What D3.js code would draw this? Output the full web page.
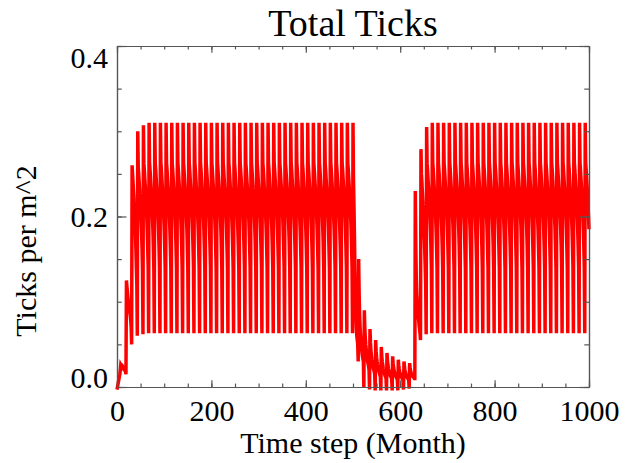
<!DOCTYPE html>
<html>
<head>
<meta charset="utf-8">
<script src="https://cdn.jsdelivr.net/npm/d3@7"></script>
<style>
  body { margin: 0; background: #fff; }
  text { font-family: "Liberation Serif", "Times New Roman", serif; }
</style>
</head>
<body>
<div id="chart"></div>
<script>
// tick labels
const xTicks = [0, 200, 400, 600, 800, 1000];
const yTicks = [0.0, 0.2, 0.4];

// first five years, month 0..59
const startup = [
  -0.003, 0.0, 0.003, 0.006, 0.009, 0.012, 0.015, 0.02, 0.026, 0.025, 0.024, 0.023,
  0.024, 0.023, 0.022, 0.021, 0.02, 0.019, 0.018, 0.015, 0.125, 0.118, 0.112, 0.106,
  0.1, 0.096, 0.092, 0.088, 0.084, 0.078, 0.07, 0.05, 0.26, 0.25, 0.24, 0.23,
  0.22, 0.208, 0.195, 0.18, 0.162, 0.14, 0.12, 0.06, 0.3, 0.258, 0.25, 0.24,
  0.23, 0.22, 0.21, 0.197, 0.182, 0.163, 0.138, 0.062, 0.307, 0.262, 0.254, 0.244
];

// steady seasonal cycle, by month of year (t % 12)
const seasonCycle = [0.235, 0.225, 0.213, 0.2, 0.185, 0.165, 0.14, 0.063, 0.31, 0.263, 0.255, 0.245];

// crash, trough and recovery, month 501..667
const troughStart = 501;
const trough = [
  0.245, 0.215, 0.18,
  0.14, 0.11, 0.085, 0.07, 0.06, 0.055, 0.05, 0.03, 0.15, 0.11, 0.085, 0.07,
  0.06, 0.052, 0.046, 0.04, 0.036, 0.033, 0.03, 0.0, 0.09, 0.07, 0.058, 0.05,
  0.044, 0.038, 0.034, 0.03, 0.027, 0.024, 0.02, -0.003, 0.068, 0.052, 0.043, 0.037,
  0.032, 0.028, 0.025, 0.022, 0.02, 0.018, 0.015, -0.004, 0.055, 0.042, 0.035, 0.03,
  0.026, 0.023, 0.02, 0.018, 0.016, 0.014, 0.012, -0.004, 0.047, 0.036, 0.03, 0.026,
  0.022, 0.019, 0.017, 0.015, 0.013, 0.012, 0.01, -0.004, 0.04, 0.031, 0.026, 0.022,
  0.019, 0.017, 0.015, 0.013, 0.012, 0.011, 0.009, -0.004, 0.036, 0.028, 0.023, 0.02,
  0.017, 0.015, 0.013, 0.012, 0.011, 0.01, 0.008, -0.004, 0.032, 0.025, 0.021, 0.018,
  0.016, 0.014, 0.012, 0.011, 0.01, 0.009, 0.008, -0.003, 0.03, 0.024, 0.02, 0.017,
  0.015, 0.013, 0.012, 0.011, 0.01, 0.009, 0.008, -0.002, 0.028, 0.023, 0.019, 0.017,
  0.015, 0.014, 0.013, 0.012, 0.012, 0.011, 0.01, 0.01, 0.23, 0.17, 0.13, 0.11,
  0.1, 0.092, 0.085, 0.079, 0.073, 0.068, 0.063, 0.055, 0.279, 0.25, 0.24, 0.228,
  0.216, 0.204, 0.19, 0.176, 0.16, 0.14, 0.12, 0.062, 0.305, 0.262, 0.254, 0.244,
  0.235, 0.225, 0.213, 0.2, 0.185, 0.165, 0.14, 0.063
];

const months = d3.range(0, 1001);
const ticks = months.map(t => {
  if (t < startup.length) return startup[t];
  if (t >= troughStart && t < troughStart + trough.length) return trough[t - troughStart];
  return seasonCycle[t % 12];
});

const W = 625, H = 463;
const margin = {top: 46, left: 117, bottom: 76, right: 36};
const width = W - margin.left - margin.right;
const height = H - margin.top - margin.bottom;

const svg = d3.select("#chart").append("svg")
  .attr("width", W).attr("height", H);

const g = svg.append("g")
  .attr("transform", `translate(${margin.left}, ${margin.top})`);

const xScale = d3.scaleLinear().domain([0, 1000]).range([0, width]);
const yScale = d3.scaleLinear().domain([0, 0.4]).range([height, 0]);

const xMinor = d3.range(0, 1001, 50);
const yMinor = d3.range(0, 0.4001, 0.05);

const xLen = height * 0.02, yLen = width * 0.02;

// the line
g.append("path")
  .datum(months)
  .attr("fill", "none")
  .attr("stroke", "#ff0000")
  .attr("stroke-width", 3.5)
  .attr("d", d3.line().x(t => xScale(t)).y((t, i) => yScale(ticks[i])));

function styleAxis(sel) {
  sel.selectAll("path, line").attr("stroke", "#555").attr("stroke-width", 1.2);
  sel.selectAll("text").attr("fill", "#000").attr("font-size", 30)
    .attr("font-family", "Liberation Serif, Times New Roman, serif");
}

// bottom
g.append("g").attr("transform", `translate(0, ${height})`)
  .call(d3.axisBottom(xScale).tickValues(xMinor).tickSize(-xLen / 2).tickSizeOuter(0).tickFormat(""))
  .call(styleAxis);
g.append("g").attr("class", "x-axis").attr("transform", `translate(0, ${height})`)
  .call(d3.axisBottom(xScale).tickValues(xTicks).tickSize(-xLen).tickSizeOuter(0).tickPadding(13).tickFormat(d3.format("d")))
  .call(styleAxis);
// top
g.append("g")
  .call(d3.axisTop(xScale).tickValues(xMinor).tickSize(-xLen / 2).tickSizeOuter(0).tickFormat(""))
  .call(styleAxis);
g.append("g")
  .call(d3.axisTop(xScale).tickValues(xTicks).tickSize(-xLen).tickSizeOuter(0).tickFormat(""))
  .call(styleAxis);
// left
g.append("g")
  .call(d3.axisLeft(yScale).tickValues(yMinor).tickSize(-yLen / 2).tickSizeOuter(0).tickFormat(""))
  .call(styleAxis);
g.append("g").attr("class", "y-axis")
  .call(d3.axisLeft(yScale).tickValues(yTicks).tickSize(-yLen).tickSizeOuter(0).tickPadding(9).tickFormat(d3.format(".1f")))
  .call(styleAxis);
// right
g.append("g").attr("transform", `translate(${width}, 0)`)
  .call(d3.axisRight(yScale).tickValues(yMinor).tickSize(-yLen / 2).tickSizeOuter(0).tickFormat(""))
  .call(styleAxis);
g.append("g").attr("transform", `translate(${width}, 0)`)
  .call(d3.axisRight(yScale).tickValues(yTicks).tickSize(-yLen).tickSizeOuter(0).tickFormat(""))
  .call(styleAxis);

// keep end labels inside the axis span, like IDL does
g.select(".y-axis").selectAll(".tick text")
  .attr("dy", d => d === 0 ? "0em" : d === 0.4 ? "0.7em" : "0.34em");

// titles
svg.append("text")
  .attr("x", margin.left + width / 2).attr("y", 36)
  .attr("text-anchor", "middle").attr("font-size", 38)
  .text("Total Ticks");

svg.append("text")
  .attr("x", margin.left + width / 2).attr("y", 453)
  .attr("text-anchor", "middle").attr("font-size", 30)
  .text("Time step (Month)");

svg.append("text")
  .attr("transform", "translate(36, 251) rotate(-90)")
  .attr("text-anchor", "middle").attr("font-size", 30)
  .text("Ticks per m^2");
</script>
</body>
</html>
